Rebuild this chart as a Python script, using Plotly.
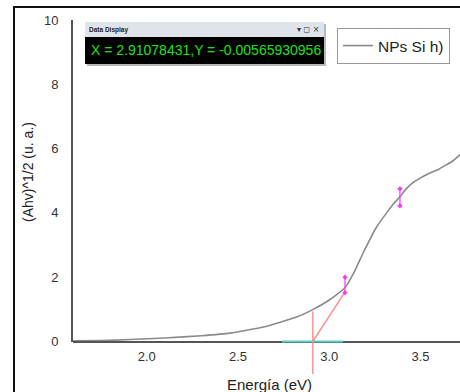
import plotly.graph_objects as go

# ---- data ----
energy = [1.597, 1.75, 1.91, 2.10, 2.30, 2.457, 2.64, 2.821, 2.912, 3.00, 3.086,
          3.14, 3.186, 3.26, 3.314, 3.35, 3.387, 3.42, 3.46, 3.50, 3.551, 3.60,
          3.643, 3.68, 3.716]
ahv = [0.02, 0.03, 0.06, 0.11, 0.18, 0.26, 0.45, 0.76, 1.00, 1.29, 1.67,
       2.20, 2.76, 3.57, 4.00, 4.27, 4.50, 4.74, 4.95, 5.09, 5.24, 5.36,
       5.50, 5.63, 5.81]
series_name = "NPs Si h)"

tangent_x = [2.910, 3.086]
tangent_y = [0.0, 1.54]
drop_x = [2.910, 2.910]
drop_y_upper = [0.93, 0.0]
drop_y_lower = [0.0, -1.01]
band_x = [2.741, 3.075]
band_y = [0.0, 0.0]
marker1_x = [3.086, 3.086]
marker1_y = [1.52, 2.00]
marker2_x = [3.387, 3.387]
marker2_y = [4.22, 4.75]

x_ticks = [2.0, 2.5, 3.0, 3.5]
x_ticklabels = ["2.0", "2.5", "3.0", "3.5"]
y_ticks = [0, 2, 4, 6, 8, 10]
y_ticklabels = ["0", "2", "4", "6", "8", "10"]
x_range = [1.5964, 3.716]
y_range = [0, 10]

readout = "X = 2.91078431,Y = -0.00565930956"

# ---- geometry helpers (layout decorations only) ----
W, H = 460, 392
L, R, T, B = 73, 0, 20, 18
PW, PH = W - L - R, H - T - B
Y_PX_PER_UNIT = (341.5 - 20) / (y_range[1] - y_range[0])
OVERLAP_PX = 5


def px(xp):
    return (xp - L) / PW


def py(yp):
    return (H - B - yp) / PH


main_bottom = py(341.5)
# lower strip (below the zero line) sharing the same vertical scale
y2_domain = [0, main_bottom + OVERLAP_PX / PH]
y2_range = [-(H - B - 341.5) / Y_PX_PER_UNIT, OVERLAP_PX / Y_PX_PER_UNIT]

FONT = "Liberation Sans, Arial, sans-serif"

fig = go.Figure()

fig.add_trace(go.Scatter(x=energy, y=ahv, mode="lines", name=series_name,
                         line=dict(color="#8a8a8a", width=1.6, shape="spline", smoothing=0.4),
                         xaxis="x", yaxis="y"))
fig.add_trace(go.Scatter(x=band_x, y=band_y, mode="lines", showlegend=False,
                         line=dict(color="#5ec9c9", width=2.2), xaxis="x2", yaxis="y2"))
fig.add_trace(go.Scatter(x=tangent_x, y=tangent_y, mode="lines", showlegend=False,
                         line=dict(color="#ff8a8a", width=1.4), xaxis="x", yaxis="y"))
fig.add_trace(go.Scatter(x=drop_x, y=drop_y_upper, mode="lines", showlegend=False,
                         line=dict(color="#ff8a8a", width=1.4), xaxis="x", yaxis="y"))
fig.add_trace(go.Scatter(x=drop_x, y=drop_y_lower, mode="lines", showlegend=False,
                         line=dict(color="#ff8a8a", width=1.4), xaxis="x2", yaxis="y2"))
for mx, my in [(marker1_x, marker1_y), (marker2_x, marker2_y)]:
    fig.add_trace(go.Scatter(x=mx, y=my, mode="lines+markers", showlegend=False,
                             line=dict(color="#ff33ff", width=1.2),
                             marker=dict(symbol="diamond", size=4, color="#ff33ff"),
                             xaxis="x", yaxis="y"))

shapes = [
    # outer frame
    dict(type="line", xref="paper", yref="paper", x0=px(14), x1=px(14), y0=py(400), y1=py(7),
         line=dict(color="#111", width=2)),
    dict(type="line", xref="paper", yref="paper", x0=px(13), x1=px(470), y0=py(7), y1=py(7),
         line=dict(color="#111", width=2)),
    # data display window
    dict(type="rect", xref="paper", yref="paper", x0=px(87), x1=px(326), y0=py(66), y1=py(24),
         fillcolor="#b8b8b8", line=dict(width=0)),
    dict(type="rect", xref="paper", yref="paper", x0=px(85), x1=px(324), y0=py(37), y1=py(22),
         fillcolor="#dfe3ea", line=dict(width=0)),
    dict(type="rect", xref="paper", yref="paper", x0=px(85), x1=px(324), y0=py(64), y1=py(37),
         fillcolor="#000000", line=dict(width=0)),
]

annotations = [
    dict(text="(Ahv)^1/2 (u. a.)", xref="paper", yref="paper", x=px(28), y=py(172),
         textangle=-90, showarrow=False, font=dict(family=FONT, size=14, color="#222"),
         xanchor="center", yanchor="middle"),
    dict(text="Energía (eV)", xref="paper", yref="paper", x=px(269), y=py(384),
         showarrow=False, font=dict(family=FONT, size=15, color="#222"),
         xanchor="center", yanchor="middle"),
    dict(text="<b>Data Display</b>", xref="paper", yref="paper", x=px(87), y=py(30),
         showarrow=False, font=dict(family=FONT, size=6.5, color="#222"),
         xanchor="left", yanchor="middle"),
    dict(text="▾ ◻ ×", xref="paper", yref="paper", x=px(321), y=py(30),
         showarrow=False, font=dict(family="DejaVu Sans", size=8, color="#333"),
         xanchor="right", yanchor="middle"),
    dict(text=readout, xref="paper", yref="paper", x=px(89), y=py(50),
         showarrow=False, font=dict(family=FONT, size=14, color="#1ee01e"),
         xanchor="left", yanchor="middle"),
]

fig.update_layout(
    width=W, height=H,
    margin=dict(l=L, r=R, t=T, b=B, pad=0),
    paper_bgcolor="white", plot_bgcolor="rgba(0,0,0,0)",
    font=dict(family=FONT, color="#333"),
    showlegend=True,
    legend=dict(x=px(337), y=py(28), xanchor="left", yanchor="top",
                bordercolor="#999", borderwidth=1, bgcolor="white",
                font=dict(family=FONT, size=15.5, color="#222"),
                tracegroupgap=0),
    xaxis=dict(range=x_range, anchor="y", tickvals=x_ticks, ticktext=x_ticklabels,
               showgrid=False, zeroline=False, showline=False,
               ticks="", tickfont=dict(family=FONT, size=13, color="#333"),
               ticklabelstandoff=5),
    xaxis2=dict(range=x_range, anchor="free", position=main_bottom, matches="x",
                showticklabels=False, ticks="", showline=True, linecolor="#555",
                linewidth=2, layer="below traces",
                showgrid=False, zeroline=False),
    yaxis=dict(range=y_range, domain=[main_bottom, 1], anchor="x", tickvals=y_ticks,
               ticktext=y_ticklabels, showgrid=False, zeroline=False, showline=True,
               linecolor="#555", linewidth=2, ticks="",
               tickfont=dict(family=FONT, size=13, color="#333"), ticklabelstandoff=10),
    yaxis2=dict(range=y2_range, domain=y2_domain, anchor="x2", visible=False,
                showgrid=False, zeroline=False),
    shapes=shapes,
    annotations=annotations,
)

fig.write_html("out.html")
